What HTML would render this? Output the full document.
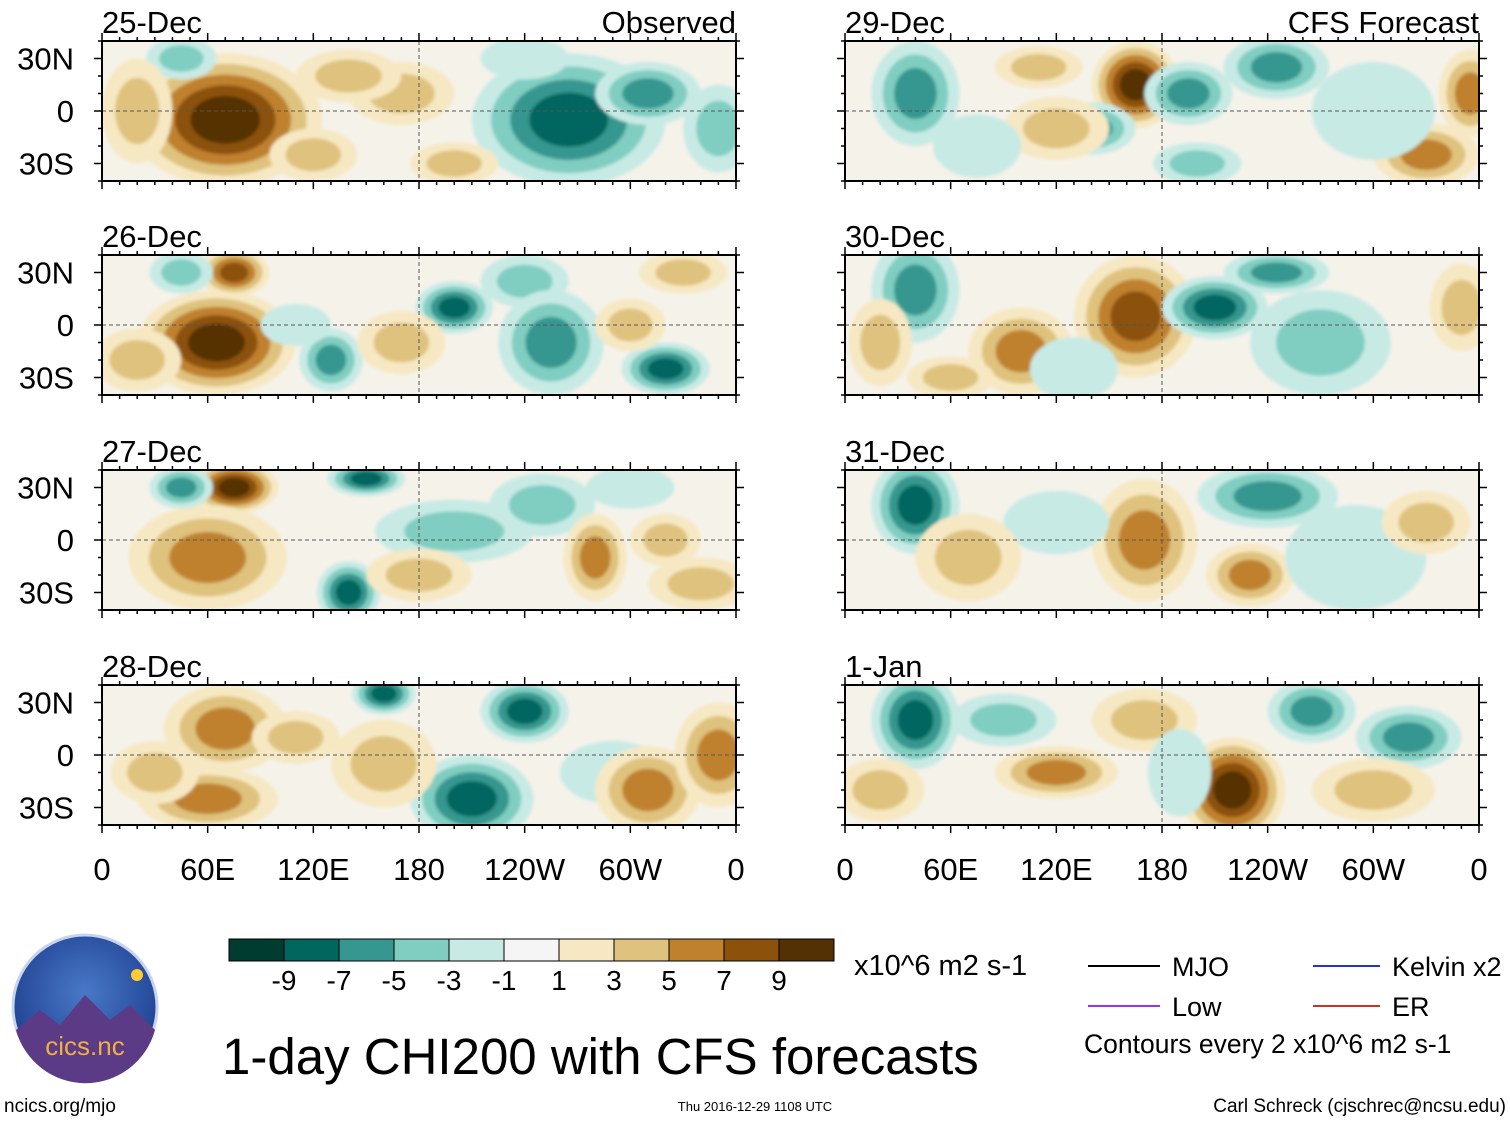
<!DOCTYPE html>
<html><head><meta charset="utf-8"><style>
html,body{margin:0;padding:0;background:#fff;}
svg{display:block;font-family:"Liberation Sans",Arial,sans-serif;}
</style></head><body>
<svg id="chart" width="1510" height="1121" viewBox="0 0 1510 1121">
<defs>
<filter id="blur" x="-20%" y="-20%" width="140%" height="140%"><feGaussianBlur stdDeviation="1.5"/></filter>
<radialGradient id="logoGrad" cx="50%" cy="40%" r="60%"><stop offset="0" stop-color="#4a78c8"/><stop offset="1" stop-color="#1d3f8f"/></radialGradient>
</defs>
<g id="panels"></g>
<g id="colorbar"></g>
<text x="854" y="975" font-size="29">x10^6 m2 s-1</text>
<g>
<line x1="1088" y1="966" x2="1160" y2="966" stroke="#000" stroke-width="2"/>
<text x="1172" y="976" font-size="27">MJO</text>
<line x1="1088" y1="1006" x2="1160" y2="1006" stroke="#9933ee" stroke-width="2"/>
<text x="1172" y="1016" font-size="27">Low</text>
<line x1="1313" y1="966" x2="1380" y2="966" stroke="#2233dd" stroke-width="2"/>
<text x="1392" y="976" font-size="27">Kelvin x2</text>
<line x1="1313" y1="1006" x2="1380" y2="1006" stroke="#cc3322" stroke-width="2"/>
<text x="1392" y="1016" font-size="27">ER</text>
<text x="1084" y="1053" font-size="26.5">Contours every 2 x10^6 m2 s-1</text>
</g>
<text x="222" y="1074" font-size="51">1-day CHI200 with CFS forecasts</text>
<g>
<circle cx="85" cy="1007" r="72" fill="url(#logoGrad)" stroke="#c8d4ee" stroke-width="3"/>
<path d="M16 1030 L40 1010 L60 1025 L85 995 L110 1020 L130 1005 L155 1030 A72 72 0 0 1 16 1030Z" fill="#5b3a86"/>
<circle cx="137" cy="975" r="6" fill="#ffcc33"/>
<text x="85" y="1055" font-size="26" fill="#f0b040" text-anchor="middle">cics.nc</text>
</g>
<text x="4" y="1112" font-size="19">ncics.org/mjo</text>
<text x="755" y="1111" font-size="13" text-anchor="middle">Thu 2016-12-29 1108 UTC</text>
<text x="1506" y="1112" font-size="19" text-anchor="end">Carl Schreck (cjschrec@ncsu.edu)</text>
</svg>
<script>
const levelColors=["#003c30","#01665e","#35978f","#80cdc1","#c7eae5","#f5f5f5","#f6e8c3","#dfc27d","#bf812d","#8c510a","#543005"];
const cbLabels=["-9","-7","-5","-3","-1","1","3","5","7","9"];
const panelDates=["25-Dec","26-Dec","27-Dec","28-Dec","29-Dec","30-Dec","31-Dec","1-Jan"];
const lonTicks=["0","60E","120E","180","120W","60W","0"];
const latTicks=["30N","0","30S"];
// blobs: [lon, lat, rxDeg, ryDeg, value]
const blobs25=[[70,-5,55,38,10],[45,30,20,12,-5],[265,-5,55,38,-8],[310,10,30,18,-6],[350,-10,20,25,-4],[170,10,30,18,4],[240,30,25,12,-3],[120,-25,25,15,3],[140,20,30,15,3],[20,0,20,30,4],[200,-30,25,12,3]];
const blobs26=[[65,-10,45,30,10],[75,30,20,14,8],[45,30,18,12,-5],[200,10,22,15,-8],[240,25,25,15,-5],[255,-10,30,30,-6],[130,-20,18,18,-6],[320,-25,25,15,-8],[330,30,25,12,4],[110,0,20,12,-3],[20,-20,25,18,4],[170,-10,25,18,3],[300,0,20,15,3]];
const blobs27=[[75,30,25,15,9],[60,-10,45,30,6],[45,30,18,12,-6],[140,-30,18,18,-8],[150,35,22,10,-9],[200,5,45,18,-4],[250,20,30,18,-4],[300,30,25,12,-3],[280,-10,18,25,6],[340,-25,30,15,4],[180,-20,30,15,3],[320,0,20,15,3]];
const blobs28=[[70,15,35,25,6],[60,-25,40,18,5],[160,35,18,12,-9],[210,-25,35,25,-8],[240,25,25,18,-8],[290,-10,30,18,-3],[310,-20,30,25,6],[350,0,25,30,5],[30,-10,25,18,4],[160,-5,30,25,3],[110,10,25,15,3]];
const blobs29=[[40,10,25,30,-7],[165,15,25,25,9],[140,-10,25,15,-7],[195,10,25,18,-6],[245,25,30,18,-7],[200,-30,25,12,-5],[120,-10,30,18,4],[330,-25,30,18,5],[355,10,18,25,5],[75,-20,25,18,-3],[300,0,35,28,-3],[110,25,25,12,3]];
const blobs30=[[40,20,25,30,-7],[165,5,35,35,8],[210,10,30,18,-9],[245,30,30,12,-6],[100,-15,30,25,5],[130,-25,25,18,-3],[350,10,18,25,4],[270,-10,40,30,-4],[20,-10,18,25,3],[60,-30,25,12,3]];
const blobs31=[[40,20,25,28,-8],[240,25,40,18,-6],[170,0,30,35,6],[230,-20,25,18,5],[290,-10,40,30,-3],[330,10,25,18,3],[120,10,30,18,-2],[70,-10,30,25,3]];
const blobs1=[[40,20,25,28,-9],[90,20,30,15,-4],[120,-10,35,15,6],[220,-20,30,30,9],[265,25,25,18,-7],[320,10,30,18,-7],[170,20,30,18,4],[300,-20,35,18,4],[190,-10,18,25,-3],[20,-20,25,18,3]];
const panelBlobs=[blobs25,blobs26,blobs27,blobs28,blobs29,blobs30,blobs31,blobs1];

const NS="http://www.w3.org/2000/svg";
function mk(t,a,p){const e=document.createElementNS(NS,t);for(const k in a)e.setAttribute(k,a[k]);p.appendChild(e);return e;}
const pg=document.getElementById('panels');
const colX=[102,845], rowY=[41,255,470,685], PW=634, PH=140;
function levelIndex(v){return Math.max(0,Math.min(10,Math.floor((v+11)/2)));}
panelDates.forEach((d,i)=>{
  const x0=colX[Math.floor(i/4)], y0=rowY[i%4];
  const xS=lon=>x0+lon/360*PW, yS=lat=>y0+(40-lat)/80*PH;
  const g=mk('g',{},pg);
  
  
  const cp=mk('clipPath',{id:'cp'+i},g);
  mk('rect',{x:x0,y:y0,width:PW,height:PH},cp);
  const inner=mk('g',{'clip-path':'url(#cp'+i+')'},g);
  mk('rect',{x:x0,y:y0,width:PW,height:PH,fill:'#f5f2ea'},inner);
  const fg=mk('g',{filter:'url(#blur)'},inner);
  panelBlobs[i].forEach(b=>{
    const li=levelIndex(b[4]);
    const steps=[];
    if(li<5){for(let k=4;k>=li;k--)steps.push(k);} else {for(let k=6;k<=li;k++)steps.push(k);}
    const n=steps.length;
    steps.forEach((k,j)=>{
      const s=1-j/(n+0.3)*0.85;
      const el=mk('ellipse',{cx:xS(b[0]),cy:yS(b[1]),rx:b[2]/360*PW*s,ry:b[3]/80*PH*s,fill:levelColors[k]},fg);
      
      
    });
  });
  mk('line',{x1:x0,y1:yS(0),x2:x0+PW,y2:yS(0),stroke:'#555','stroke-dasharray':'4,3','stroke-width':1},inner);
  mk('line',{x1:xS(180),y1:y0,x2:xS(180),y2:y0+PH,stroke:'#555','stroke-dasharray':'4,3','stroke-width':1},inner);
  mk('rect',{x:x0,y:y0,width:PW,height:PH,fill:'none',stroke:'#000','stroke-width':2},g);
  for(let l=0;l<=360;l+=10){const len=l%60==0?8:4;
    mk('line',{x1:xS(l),y1:y0,x2:xS(l),y2:y0-len,stroke:'#000','stroke-width':1.5},g);
    mk('line',{x1:xS(l),y1:y0+PH,x2:xS(l),y2:y0+PH+len,stroke:'#000','stroke-width':1.5},g);}
  for(let la=-40;la<=40;la+=10){const len=la%30==0?8:4;
    mk('line',{x1:x0,y1:yS(la),x2:x0-len,y2:yS(la),stroke:'#000','stroke-width':1.5},g);
    mk('line',{x1:x0+PW,y1:yS(la),x2:x0+PW+len,y2:yS(la),stroke:'#000','stroke-width':1.5},g);}
  const t=mk('text',{x:x0,y:y0-8,'font-size':31},g);t.textContent=d;
  
  if(i%4==0){const tt=mk('text',{x:x0+PW,y:y0-8,'font-size':31,'text-anchor':'end'},g);tt.textContent=i==0?'Observed':'CFS Forecast';
    }
  if(i<4){[30,0,-30].forEach((la,j)=>{const yt=mk('text',{x:74,y:yS(la)+11,'font-size':31,'text-anchor':'end'},g);yt.textContent=latTicks[j];
    });}
  if(i%4==3){lonTicks.forEach((s,j)=>{const xt=mk('text',{x:xS(j*60),y:880,'font-size':31,'text-anchor':'middle'},g);xt.textContent=s;
    });}
});
const cb=document.getElementById('colorbar');
const cbX=229,cbW=55;
levelColors.forEach((c,k)=>{const r=mk('rect',{x:cbX+k*cbW,y:939,width:cbW,height:22,fill:c,stroke:'#000','stroke-width':1},cb);
  });
cbLabels.forEach((s,k)=>{const t=mk('text',{x:cbX+(k+1)*cbW,y:990,'font-size':28,'text-anchor':'middle'},cb);t.textContent=s;
  });
</script>
</body></html>
